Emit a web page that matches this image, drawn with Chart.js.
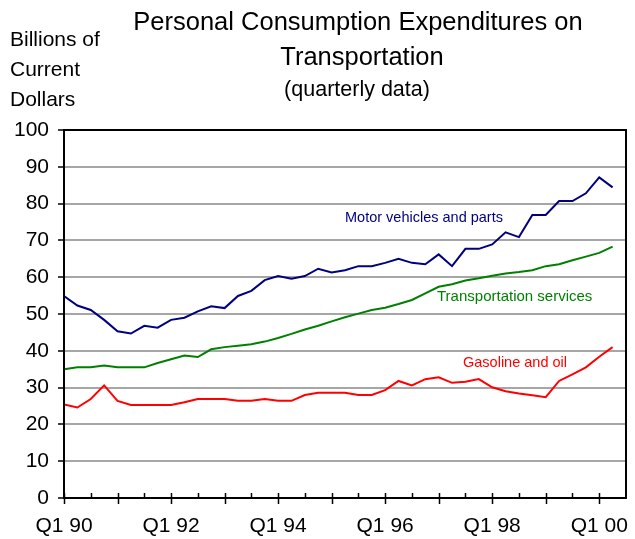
<!DOCTYPE html>
<html>
<head>
<meta charset="utf-8">
<script src="https://cdn.jsdelivr.net/npm/chart.js@4.4.1/dist/chart.umd.min.js"></script>
<style>
  html, body { margin: 0; padding: 0; background: #fff; }
  #wrap { width: 635px; height: 539px; position: relative; }
</style>
</head>
<body>
<div id="wrap"><canvas id="pceChart" width="635" height="539"></canvas></div>
<script>
// quarterly, Q1 1990 .. Q2 2000 (billions of current dollars)
const motorVehicles = [54.9, 52.3, 51.1, 48.4, 45.3, 44.7, 46.8, 46.3, 48.4, 49.0,
    50.7, 52.1, 51.6, 54.9, 56.3, 59.2, 60.3, 59.6, 60.3, 62.3,
    61.3, 61.9, 63.0, 63.0, 63.9, 65.0, 63.9, 63.5, 66.2, 63.0,
    67.7, 67.7, 68.9, 72.2, 70.9, 76.9, 76.9, 80.7, 80.7, 82.8,
    87.1, 84.4];
const transportServices = [35.0, 35.5, 35.5, 36.0, 35.5, 35.5, 35.5, 36.7, 37.7, 38.7,
    38.3, 40.4, 41.0, 41.4, 41.8, 42.5, 43.5, 44.6, 45.8, 46.8,
    48.0, 49.1, 50.1, 51.1, 51.7, 52.7, 53.8, 55.6, 57.4, 58.1,
    59.1, 59.7, 60.4, 61.0, 61.4, 61.9, 63.0, 63.5, 64.6, 65.6,
    66.6, 68.3];
const gasolineOil = [25.4, 24.6, 26.9, 30.6, 26.4, 25.3, 25.3, 25.3, 25.3, 26.0,
    26.9, 26.9, 26.9, 26.4, 26.4, 26.9, 26.4, 26.4, 28.0, 28.6,
    28.6, 28.6, 28.0, 28.0, 29.3, 31.8, 30.6, 32.3, 32.8, 31.3,
    31.6, 32.3, 30.1, 29.0, 28.4, 27.9, 27.4, 31.8, 33.6, 35.5,
    38.4, 41.0];
const xTickLabels = ['Q1 90', 'Q1 92', 'Q1 94', 'Q1 96', 'Q1 98', 'Q1 00'];
const yTicks = [0, 10, 20, 30, 40, 50, 60, 70, 80, 90, 100];

const FONT = '"Liberation Sans", Arial, sans-serif';

function toPoints(arr) {
    return arr.map((v, i) => ({ x: i, y: v }));
}

// titles, frame, x tick marks, series labels
const decorations = {
    id: 'decorations',
    afterDraw(chart) {
        const ctx = chart.ctx;
        const a = chart.chartArea;
        const xs = chart.scales.x;
        ctx.save();

        ctx.strokeStyle = '#000';
        ctx.lineWidth = 2;
        ctx.strokeRect(a.left, a.top, a.right - a.left, a.bottom - a.top);

        // tick marks every half year, longer ones each year
        ctx.lineWidth = 1.5;
        for (let i = 0; i <= 40; i += 2) {
            const px = Math.round(xs.getPixelForValue(i)) + 0.5;
            ctx.beginPath();
            ctx.moveTo(px, a.bottom - 5);
            ctx.lineTo(px, i % 4 === 0 ? a.bottom + 6 : a.bottom);
            ctx.stroke();
        }

        ctx.fillStyle = '#000';
        ctx.textAlign = 'center';
        ctx.textBaseline = 'middle';
        ctx.font = '25.5px ' + FONT;
        ctx.fillText('Personal Consumption Expenditures on', 358, 23);
        ctx.fillText('Transportation', 362, 58);
        ctx.font = '21.5px ' + FONT;
        ctx.fillText('(quarterly data)', 357, 90);

        ctx.textAlign = 'left';
        ctx.font = '21px ' + FONT;
        ctx.fillText('Billions of', 10, 40);
        ctx.fillText('Current', 10, 70);
        ctx.fillText('Dollars', 10, 100);

        ctx.font = '14.5px ' + FONT;
        ctx.fillStyle = '#000080';
        ctx.fillText('Motor vehicles and parts', 345, 218);
        ctx.fillStyle = '#008000';
        ctx.font = '15px ' + FONT;
        ctx.fillText('Transportation services', 437, 297);
        ctx.fillStyle = '#ff0000';
        ctx.font = '14.5px ' + FONT;
        ctx.fillText('Gasoline and oil', 463, 363);
        ctx.restore();
    }
};

function makeChart() {
    const ctx = document.getElementById('pceChart').getContext('2d');
    new Chart(ctx, {
        type: 'line',
        data: {
            datasets: [
                { label: 'Motor vehicles and parts', data: toPoints(motorVehicles), borderColor: '#000080' },
                { label: 'Transportation services', data: toPoints(transportServices), borderColor: '#008000' },
                { label: 'Gasoline and oil', data: toPoints(gasolineOil), borderColor: '#ff0000' }
            ]
        },
        options: {
            responsive: false,
            animation: false,
            events: [],
            elements: {
                line: { borderWidth: 2, tension: 0, fill: false },
                point: { radius: 0 }
            },
            layout: { padding: { top: 130, right: 9, left: 0, bottom: 0 } },
            plugins: { legend: { display: false }, tooltip: { enabled: false } },
            scales: {
                x: {
                    type: 'linear',
                    min: 0,
                    max: 42,
                    afterFit: s => { s.height = 41; s.paddingLeft = 0; s.paddingRight = 0; },
                    border: { display: true, color: '#000', width: 2 },
                    grid: { display: true, drawOnChartArea: false, drawTicks: false },
                    ticks: {
                        stepSize: 2,
                        autoSkip: false,
                        maxRotation: 0,
                        padding: 16,
                        color: '#000',
                        font: { family: FONT, size: 21 },
                        callback: v => (v % 8 === 0 ? xTickLabels[v / 8] : '')
                    }
                },
                y: {
                    min: 0,
                    max: 100,
                    afterFit: s => { s.width = 64; s.paddingTop = 0; s.paddingBottom = 0; },
                    afterBuildTicks: s => { s.ticks = yTicks.map(v => ({ value: v })); },
                    border: { display: true, color: '#000', width: 2 },
                    grid: { color: '#a6a6a6', lineWidth: 2, tickLength: 6, tickColor: '#000', tickWidth: 1.5 },
                    ticks: {
                        padding: 9,
                        color: '#000',
                        font: { family: FONT, size: 21 }
                    }
                }
            }
        },
        plugins: [decorations]
    });
}

document.addEventListener('DOMContentLoaded', () => {
    makeChart();
});
</script>
</body>
</html>
